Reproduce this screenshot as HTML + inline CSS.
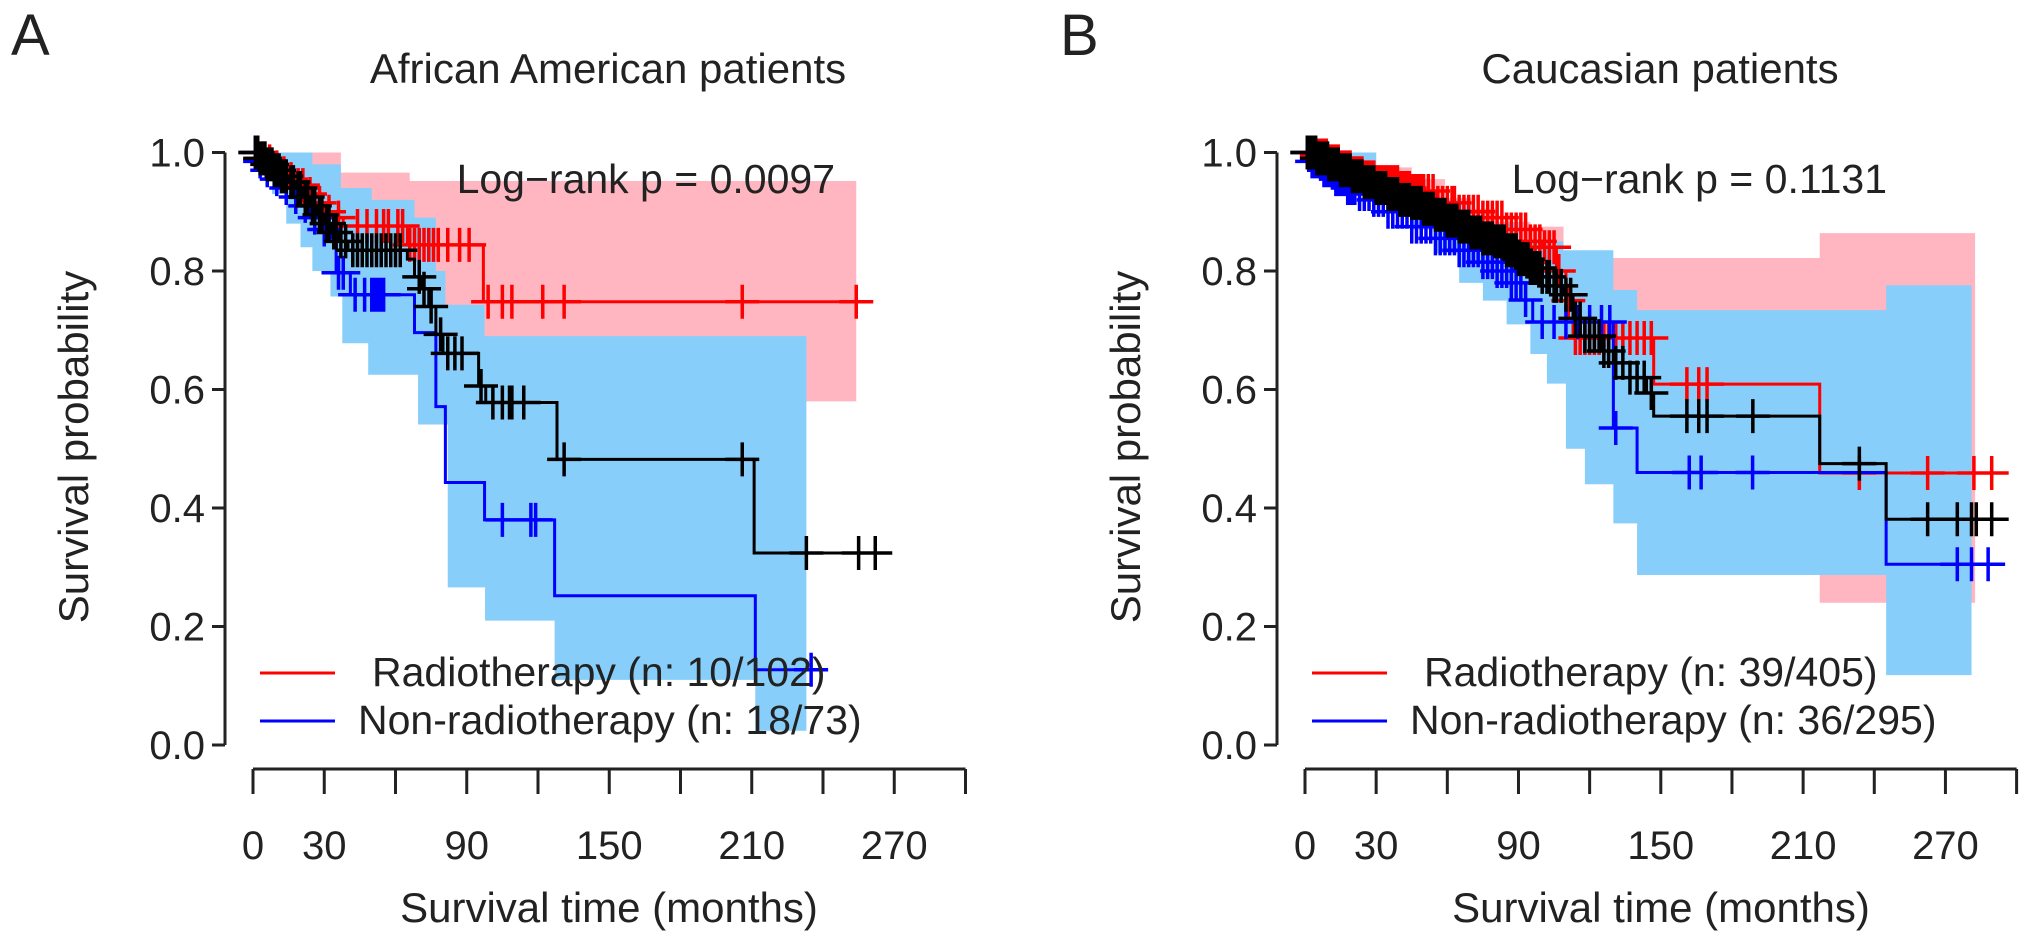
<!DOCTYPE html>
<html>
<head>
<meta charset="utf-8">
<style>
  html, body { margin: 0; padding: 0; background: #fff; }
  svg { display: block; font-family: "Liberation Sans", Arial, sans-serif; }
  text { fill: #222; }
</style>
</head>
<body>
<svg id="fig" width="2031" height="948" viewBox="0 0 2031 948" xmlns="http://www.w3.org/2000/svg">
  <g id="panelA"></g>
  <g id="panelB"></g>
</svg>
<script>
// ---------- Panel A data (African American) ----------
const aRedT = [0, 3, 6, 9, 12, 15, 18, 22, 26, 30, 34, 38, 65, 97];
const aRedS = [1, 0.99, 0.985, 0.975, 0.965, 0.955, 0.945, 0.93, 0.915, 0.9, 0.89, 0.876, 0.844, 0.748];
const aRedEnd = 254;
const aRedCens = [2,4,5,7,10,13,16,19,21,24,28,32,36,44,48,52,55,57,61,63,66,68,70,72,74,76,78,82,87,91,99,105,109,122,131,206,254];
const aRedUpT = [0, 37, 66];
const aRedUpS = [1, 0.966, 0.952];
const aRedLoT = [0, 5, 10, 15, 20, 25, 30, 37, 65, 97];
const aRedLoS = [1, 0.97, 0.95, 0.92, 0.89, 0.86, 0.83, 0.8, 0.7, 0.58];

const aBlueT = [0, 2, 5, 8, 12, 16, 20, 24, 28, 33, 35, 41, 68, 77, 81, 97.5, 127, 211.5];
const aBlueS = [1, 0.985, 0.97, 0.955, 0.94, 0.925, 0.91, 0.89, 0.87, 0.856, 0.797, 0.76, 0.696, 0.571, 0.443, 0.38, 0.252, 0.127];
const aBlueEnd = 240;
const aBlueCens = [1,3,6,10,14,18,22,26,30,36,38,43,47,50,51,52,53,54,55,105,117,119,235];
const aBlueUpT = [0, 25, 37, 50, 68, 77, 81, 97.5];
const aBlueUpS = [1, 0.98, 0.94, 0.92, 0.89, 0.8, 0.743, 0.69];
const aBlueLoT = [0, 8, 14, 20, 25, 32.6, 37.6, 48.5, 69.5, 82, 97.7, 127, 211.5];
const aBlueLoS = [1, 0.93, 0.88, 0.84, 0.8, 0.757, 0.678, 0.625, 0.541, 0.266, 0.21, 0.11, 0.024];
const aBlueCIEnd = 233;

const aAllT = [0, 3, 6, 9, 12, 15, 18, 21, 24, 27, 30, 33, 36, 40, 65, 68, 71, 74, 77, 80, 95, 98, 128, 211];
const aAllS = [1, 0.99, 0.98, 0.97, 0.96, 0.95, 0.94, 0.925, 0.91, 0.895, 0.88, 0.865, 0.85, 0.835, 0.82, 0.79, 0.77, 0.74, 0.693, 0.661, 0.606, 0.578, 0.482, 0.324];
const aAllEnd = 262;
const aAllCens = [1,2,3,4,5,6,7,8,9,10,11,12,13,14,16,17,19,20,22,23,25,26,28,29,31,32,34,35,37,39,42,44,46,48,50,52,54,56,58,60,62,70,72,75,79,82,85,88,96,101,105,108,109,114,131,206,233,255,262];

// ---------- Panel B data (Caucasian) ----------
const bRedT = [0, 5, 10, 15, 20, 25, 30, 40, 45, 55, 65, 75, 85, 95, 100, 106, 110, 113, 147, 217];
const bRedS = [1, 0.995, 0.985, 0.975, 0.965, 0.958, 0.95, 0.94, 0.935, 0.915, 0.9, 0.89, 0.87, 0.85, 0.84, 0.8, 0.75, 0.687, 0.609, 0.459];
const bRedEnd = 289.5;
const bRedCens = [1,2,3,4,5,6,7,8,9,10,11,12,13,14,15,16,17,18,19,20,21,22,23,24,25,26,27,28,29,30,31,32,33,34,35,36,37,38,39,40,41,42,43,44,45,46,47,48,49,50,52,54,56,58,60,62,63,65,67,69,71,73,75,77,79,81,83,85,87,89,91,93,95,97,99,101,103,105,107,111,114,116,118,120,122,124,126,128,131,134,137,140,143,146,161,166,169.5,233.7,262.5,282,289.5];
const bRedUpT = [0, 30, 45, 59, 70, 81, 95, 109, 217];
const bRedUpS = [1, 0.975, 0.955, 0.923, 0.905, 0.883, 0.875, 0.822, 0.864];
const bRedLoT = [0, 20, 40, 60, 80, 100, 113, 130, 217];
const bRedLoS = [1, 0.94, 0.9, 0.86, 0.82, 0.76, 0.588, 0.45, 0.24];
const bRedCIEnd = 282.5;

const bBlueT = [0, 3, 8, 13, 18, 23, 28, 35, 45, 55, 65, 75, 81, 87, 93, 96, 130, 140, 245];
const bBlueS = [1, 0.985, 0.97, 0.955, 0.94, 0.93, 0.92, 0.9, 0.875, 0.855, 0.835, 0.815, 0.8, 0.78, 0.751, 0.714, 0.535, 0.46, 0.305];
const bBlueEnd = 288;
const bBlueCens = [1,2,3,4,5,6,7,8,9,10,11,12,13,14,15,16,17,18,19,20,21,23,25,27,29,31,33,35,37,39,41,43,45,47,49,51,53,55,57,59,61,63,65,67,69,71,73,75,77,79,81,83,85,87,89,91,93,100,105,110,115,120,125,128.5,131,162,167,188.7,275,281,288];
const bBlueUpT = [0, 30, 50, 70, 90, 109, 130, 140, 245];
const bBlueUpS = [1, 0.96, 0.92, 0.88, 0.85, 0.835, 0.768, 0.734, 0.776];
const bBlueLoT = [0, 10, 20, 30, 45, 55, 65, 75, 85, 95, 102, 110, 118, 130, 140, 245];
const bBlueLoS = [1, 0.97, 0.945, 0.915, 0.87, 0.83, 0.78, 0.75, 0.71, 0.66, 0.61, 0.5, 0.44, 0.374, 0.287, 0.118];
const bBlueCIEnd = 281;

const bAllT = [0, 5, 10, 15, 20, 25, 30, 35, 40, 45, 50, 55, 60, 65, 70, 75, 80, 85, 90, 95, 100, 105, 109, 113, 118, 125, 130, 137, 144, 147, 217, 245];
const bAllS = [1, 0.99, 0.98, 0.97, 0.96, 0.95, 0.94, 0.93, 0.92, 0.915, 0.905, 0.895, 0.885, 0.875, 0.865, 0.855, 0.85, 0.835, 0.82, 0.805, 0.79, 0.775, 0.76, 0.72, 0.69, 0.665, 0.645, 0.62, 0.594, 0.555, 0.475, 0.381];
const bAllEnd = 289.5;
const bAllCens = [1,1.5,2,2.5,3,3.5,4,4.5,5,5.5,6,6.5,7,7.5,8,8.5,9,9.5,10,11,12,13,14,15,16,17,18,19,20,21,22,23,24,25,26,27,28,29,30,31,32,33,34,35,36,37,38,39,40,41,42,43,44,45,46,47,48,49,50,51,52,53,54,55,56,57,58,59,60,61,62,63,64,65,66,67,68,69,70,71,72,73,74,75,76,77,78,79,80,81,82,83,84,85,86,87,88,89,90,91,92,93,94,95,96,97,98,99,100,102,103,105,106,108,110,112,114,116,118,120,122,124,126,128,131,134,137,140,143,146,161,166,169.5,188.8,233.7,262.5,275,281,283,289.5];

// ---------- shared axis data ----------
const yTicks = [0, 0.2, 0.4, 0.6, 0.8, 1.0];
const yTickLabels = ["0.0", "0.2", "0.4", "0.6", "0.8", "1.0"];
const xTicks = [0, 30, 60, 90, 120, 150, 180, 210, 240, 270, 300];
const xLabelTicks = [0, 30, 90, 150, 210, 270];

const NS = "http://www.w3.org/2000/svg";
function mk(parent, tag, attrs, text) {
  const e = document.createElementNS(NS, tag);
  for (const k in attrs) e.setAttribute(k, attrs[k]);
  if (text !== undefined) e.textContent = text;
  parent.appendChild(e);
  return e;
}
function stepPath(T, S, end, X, Y) {
  let d = "M" + X(T[0]) + "," + Y(S[0]);
  for (let i = 1; i < T.length; i++) d += "H" + X(T[i]) + "V" + Y(S[i]);
  d += "H" + X(end);
  return d;
}
function ciPath(UT, US, LT, LS, end, X, Y) {
  let d = "M" + X(UT[0]) + "," + Y(US[0]);
  for (let i = 1; i < UT.length; i++) d += "H" + X(UT[i]) + "V" + Y(US[i]);
  d += "H" + X(end) + "V" + Y(LS[LS.length - 1]);
  for (let i = LT.length - 1; i >= 0; i--) {
    d += "H" + X(LT[i]);
    if (i > 0) d += "V" + Y(LS[i - 1]);
  }
  return d + "Z";
}
function valAt(T, S, t) {
  let v = S[0];
  for (let i = 0; i < T.length; i++) if (T[i] <= t) v = S[i];
  return v;
}

function drawPanel(g, o) {
  const X = t => o.x0 + o.px * t;
  const Y = v => 745 - 592.5 * v;
  const ax = o.x0 - 28;
  let e;
  e = mk(g, "path", { d: ciPath(o.redUpT, o.redUpS, o.redLoT, o.redLoS, o.redCIEnd, X, Y), fill: "#ffb6c1" });
  
  
  e = mk(g, "path", { d: ciPath(o.blueUpT, o.blueUpS, o.blueLoT, o.blueLoS, o.blueCIEnd, X, Y), fill: "#87cefa" });
  
  
  const series = [
    { T: o.redT, S: o.redS, end: o.redEnd, C: o.redC, col: "#ff0000", name: "radiotherapy" },
    { T: o.blueT, S: o.blueS, end: o.blueEnd, C: o.blueC, col: "#0000ff", name: "non-radiotherapy" },
    { T: o.allT, S: o.allS, end: o.allEnd, C: o.allC, col: "#000000", name: "overall" }
  ];
  series.forEach(s => {
    const sg = mk(g, "g", {});
    
    
    const p = mk(sg, "path", { d: stepPath(s.T, s.S, s.end, X, Y), fill: "none", stroke: s.col, "stroke-width": 3 });
    
    
    let d = "";
    s.C.forEach(t => {
      const cx = X(t), cy = Y(valAt(s.T, s.S, t));
      d += "M" + (cx - 17) + "," + cy + "H" + (cx + 17) + "M" + cx + "," + (cy - 17) + "V" + (cy + 17);
    });
    const c = mk(sg, "path", { d: d, fill: "none", stroke: s.col, "stroke-width": 3.5 });
    
    
  });
  const ya = mk(g, "g", {});
  
  
  mk(ya, "line", { x1: ax, y1: Y(0), x2: ax, y2: Y(1), stroke: "#222", "stroke-width": 3 });
  yTicks.forEach((v, i) => {
    mk(ya, "line", { x1: ax - 13, y1: Y(v), x2: ax, y2: Y(v), stroke: "#222", "stroke-width": 3 });
    const t = mk(ya, "text", { x: ax - 20, y: Y(v) + 14, "font-size": 40, "text-anchor": "end" }, yTickLabels[i]);
    
    
  });
  const xa = mk(g, "g", {});
  
  
  mk(xa, "line", { x1: X(0), y1: 769, x2: X(300), y2: 769, stroke: "#222", "stroke-width": 3 });
  xTicks.forEach(t => {
    mk(xa, "line", { x1: X(t), y1: 769, x2: X(t), y2: 794, stroke: "#222", "stroke-width": 3 });
  });
  xLabelTicks.forEach(t => {
    const l = mk(xa, "text", { x: X(t), y: 859, "font-size": 40, "text-anchor": "middle" }, String(t));
    
    
  });
  const xt = mk(g, "text", { x: o.x0 + 356, y: 922, "font-size": 42, "text-anchor": "middle" }, "Survival time (months)");
  
  
  const yt = mk(g, "text", { x: 0, y: 0, "font-size": 42, "text-anchor": "middle", transform: "translate(" + (o.x0 - 165) + ",447) rotate(-90)" }, "Survival probability");
  
  
  const ti = mk(g, "text", { x: o.x0 + 355, y: 83, "font-size": 42, "text-anchor": "middle" }, o.title);
  
  
  const pl = mk(g, "text", { x: o.letterX, y: 55, "font-size": 58 }, o.letter);
  
  
  const lr = mk(g, "text", { x: o.x0 + 582, y: 193, "font-size": 41, "text-anchor": "end" }, o.pval);
  
  
  const lg = mk(g, "g", {});
  
  
  const e1 = mk(lg, "g", {});
  
  
  mk(e1, "line", { x1: o.x0 + 7, y1: 673, x2: o.x0 + 82, y2: 673, stroke: "#ff0000", "stroke-width": 3 });
  mk(e1, "text", { x: o.x0 + 119, y: 686, "font-size": 41 }, o.leg1);
  const e2 = mk(lg, "g", {});
  
  
  mk(e2, "line", { x1: o.x0 + 7, y1: 721, x2: o.x0 + 82, y2: 721, stroke: "#0000ff", "stroke-width": 3 });
  mk(e2, "text", { x: o.x0 + 105, y: 734, "font-size": 41 }, o.leg2);
}

drawPanel(document.getElementById("panelA"), {
  x0: 253, px: 2.375, letter: "A", letterX: 11, title: "African American patients",
  pval: "Log\u2212rank p = 0.0097",
  leg1: "Radiotherapy (n: 10/102)", leg2: "Non-radiotherapy (n: 18/73)",
  redT: aRedT, redS: aRedS, redEnd: aRedEnd, redC: aRedCens,
  redUpT: aRedUpT, redUpS: aRedUpS, redLoT: aRedLoT, redLoS: aRedLoS, redCIEnd: aRedEnd,
  blueT: aBlueT, blueS: aBlueS, blueEnd: aBlueEnd, blueC: aBlueCens,
  blueUpT: aBlueUpT, blueUpS: aBlueUpS, blueLoT: aBlueLoT, blueLoS: aBlueLoS, blueCIEnd: aBlueCIEnd,
  allT: aAllT, allS: aAllS, allEnd: aAllEnd, allC: aAllCens
});
drawPanel(document.getElementById("panelB"), {
  x0: 1305, px: 2.372, letter: "B", letterX: 1060, title: "Caucasian patients",
  pval: "Log\u2212rank p = 0.1131",
  leg1: "Radiotherapy (n: 39/405)", leg2: "Non-radiotherapy (n: 36/295)",
  redT: bRedT, redS: bRedS, redEnd: bRedEnd, redC: bRedCens,
  redUpT: bRedUpT, redUpS: bRedUpS, redLoT: bRedLoT, redLoS: bRedLoS, redCIEnd: bRedCIEnd,
  blueT: bBlueT, blueS: bBlueS, blueEnd: bBlueEnd, blueC: bBlueCens,
  blueUpT: bBlueUpT, blueUpS: bBlueUpS, blueLoT: bBlueLoT, blueLoS: bBlueLoS, blueCIEnd: bBlueCIEnd,
  allT: bAllT, allS: bAllS, allEnd: bAllEnd, allC: bAllCens
});
</script>
</body>
</html>
